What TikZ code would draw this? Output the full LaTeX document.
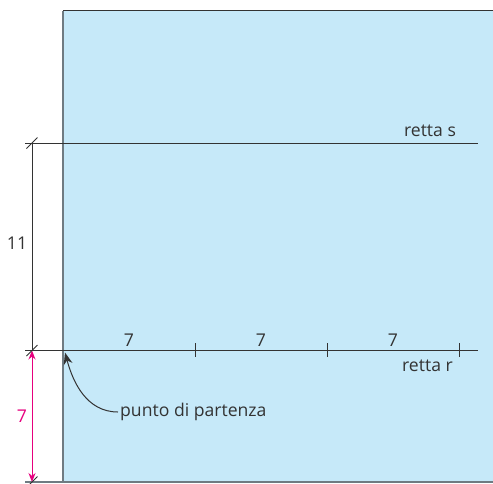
\documentclass[tikz,border=0pt]{standalone}
\usepackage{fontspec}
\setmainfont{Open Sans}
\usetikzlibrary{calc,arrows.meta}
\definecolor{sheet}{HTML}{C6E9F9}
\definecolor{ink}{HTML}{333333}
\definecolor{edge}{HTML}{6F7B82}
\definecolor{quota}{HTML}{E6007E}
\tikzset{
  retta/.style={ink,line width=1pt},
  lbl/.style={font=\fontsize{17.6}{20}\selectfont,text=ink,inner sep=0pt},
  slash/.style={ink,line width=0.9pt},
  dim/.style={ink,line width=0.9pt},
  pinkdim/.style={{Stealth[length=9pt,width=7pt]}-{Stealth[length=9pt,width=7pt]},quota,line width=1pt},
  pointer/.style={-{Stealth[length=12pt,width=9pt]},ink,line width=1pt},
}

\begin{document}
\begin{tikzpicture}[x=1pt,y=-1pt]
\useasboundingbox (0,0) rectangle (493,483);
% foglio
\fill[sheet] (63,10.5) rectangle (493,482);
\draw[edge,line width=2pt] (63,482) -- (63,10.5);
\draw[ink,line width=1.6pt] (63,10.5) -- (493,10.5);
\draw[edge,line width=1.2pt] (25,482) -- (493,482);
% rette
\coordinate (s0) at (25,143);
\coordinate (s1) at (478,143);
\coordinate (r0) at (25,350.5);
\coordinate (r1) at (478,350.5);
\draw[retta] (s0) -- (s1);
\draw[retta] (r0) -- (r1);
\foreach \x in {195,327,459}
  \draw[retta] (\x,343) -- (\x,357);
\foreach \x [count=\i] in {129,261,393}
  \node[lbl] (seg\i) at (\x,340) {7};
\node[lbl] (rs) at (430,131) {retta s};
\node[lbl] (rr) at (427.5,366) {retta r};
% quote
\coordinate (ds) at (32,143);
\coordinate (dr) at (32,350.5);
\coordinate (db) at (32,482);
\draw[dim] (ds) -- (dr);
\draw[pinkdim] (dr) -- (db);
\foreach \p in {ds,dr,db}
  \draw[slash] ($(\p)+(-5.5,5.5)$) -- ($(\p)+(5.5,-5.5)$);
\node[lbl] (q11) at (17,243) {11};
\node[lbl,text=quota] (q7) at (22,416) {7};
% punto di partenza
\coordinate (corner) at (65,352.5);
\node[lbl,inner sep=2pt,anchor=west] (start) at (118,412) {punto di partenza};
\draw[pointer] (start.west) to[out=180,in=-75] (corner);
\end{tikzpicture}
\end{document}
